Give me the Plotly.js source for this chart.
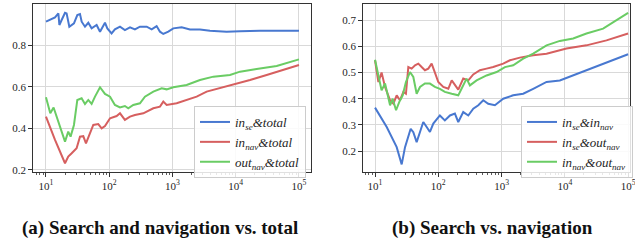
<!DOCTYPE html>
<html>
<head>
<meta charset="utf-8">
<script src="https://cdn.plot.ly/plotly-3.0.1.min.js"></script>
<style>html,body{margin:0;padding:0;background:#fff;}#chart{width:635px;height:243px;}</style>
</head>
<body>
<div id="chart"></div>
<script>
// ---- Panel (a): Search and navigation vs. total ----
const aInSeTotalN = [10,13.9,15.7,16.3,17.7,20,21.2,23.4,27.7,31.3,34.5,36.7,41.4,46.7,52.7,63.2,71.5,85.7,93.3,109,123,148,177,213,255,306,391,469,562,634,716,859,1030,1396,1890,2720,3920,7180,11700,24200,50100,100000];
const aInSeTotalY = [0.912,0.933,0.952,0.896,0.920,0.955,0.952,0.888,0.904,0.944,0.949,0.912,0.888,0.907,0.880,0.896,0.864,0.907,0.880,0.856,0.875,0.888,0.872,0.885,0.875,0.888,0.888,0.875,0.891,0.864,0.853,0.864,0.880,0.885,0.875,0.875,0.869,0.864,0.866,0.869,0.868,0.869];

const aInNavTotalN = [10,13.9,20,22.5,25.5,30.5,34.5,38.9,42.9,49.7,56,67.1,75.9,85.7,103,131,148,177,213,255,346,498,634,716,809,1164,1675,2410,3467,4699,9162,16830,30830,56620,100000];
const aInNavTotalY = [0.456,0.344,0.232,0.264,0.280,0.304,0.360,0.362,0.328,0.376,0.416,0.420,0.400,0.411,0.448,0.459,0.472,0.440,0.456,0.464,0.472,0.496,0.504,0.528,0.512,0.520,0.536,0.552,0.576,0.587,0.608,0.632,0.656,0.680,0.704];

const aOutNavTotalN = [10,11.7,13.2,15.7,20,22.5,24.5,27.7,31.3,36.6,41.4,46.7,52.7,59.6,71.5,85.7,103,123,148,177,200,240,306,367,498,675,809,1030,1675,2720,4430,8110,11700,21400,44400,100000];
const aOutNavTotalY = [0.549,0.472,0.500,0.432,0.336,0.384,0.360,0.416,0.536,0.544,0.517,0.536,0.517,0.552,0.597,0.565,0.552,0.512,0.500,0.507,0.496,0.512,0.520,0.552,0.576,0.592,0.587,0.597,0.608,0.632,0.648,0.656,0.672,0.685,0.699,0.731];

// ---- Panel (b): Search vs. navigation ----
const bInSeInNavN = [10,15.3,22,26.4,29.8,33.6,36.6,40.3,45.5,51.4,57.9,65.5,73.8,83.4,91.8,106,127,153,183,207,248,298,357,429,514,615,785,1062,1528,2198,3162,5140,8340,13550,21980,40270,100000];
const bInSeInNavY = [0.366,0.292,0.215,0.149,0.215,0.254,0.285,0.272,0.234,0.273,0.311,0.292,0.273,0.305,0.317,0.336,0.317,0.336,0.343,0.311,0.349,0.336,0.362,0.375,0.394,0.381,0.375,0.400,0.413,0.419,0.438,0.464,0.470,0.489,0.509,0.532,0.570];

const bInSeOutNavN = [10,11.3,12.7,14.4,17.3,19.5,22,24.8,28,30.8,33.6,37.9,42.9,48.3,54.6,61.5,69.5,78.5,88.5,100,120,144,163,183,207,248,298,357,455,579,738,1062,1355,1945,3162,5140,6550,10620,21980,45500,100000];
const bInSeOutNavY = [0.547,0.464,0.500,0.445,0.394,0.381,0.413,0.394,0.426,0.419,0.521,0.515,0.528,0.534,0.521,0.509,0.515,0.534,0.500,0.464,0.445,0.438,0.470,0.451,0.435,0.477,0.470,0.493,0.509,0.515,0.521,0.534,0.547,0.557,0.566,0.572,0.579,0.592,0.604,0.623,0.649];

const bInNavOutNavN = [10,11.3,12.7,14.4,17.3,19,21.5,24.2,27.4,30.8,35.7,40.3,45.5,51.4,61.5,73.8,88.5,106,127,163,207,233,280,316,403,579,834,1130,1528,2198,3162,5140,8340,13550,21980,40270,100000];
const bInNavOutNavY = [0.549,0.483,0.432,0.458,0.375,0.400,0.356,0.388,0.413,0.464,0.502,0.483,0.419,0.445,0.458,0.458,0.445,0.438,0.426,0.419,0.413,0.438,0.477,0.451,0.470,0.489,0.502,0.521,0.528,0.553,0.572,0.604,0.621,0.630,0.649,0.668,0.728];

// ---- Labels / ticks ----
const aNames = ['<i>in<sub>se</sub>&amp;total</i>','<i>in<sub>nav</sub>&amp;total</i>','<i>out<sub>nav</sub>&amp;total</i>'];
const bNames = ['<i>in<sub>se</sub>&amp;in<sub>nav</sub></i>','<i>in<sub>se</sub>&amp;out<sub>nav</sub></i>','<i>in<sub>nav</sub>&amp;out<sub>nav</sub></i>'];
const xTickVals = [10,100,1000,10000,100000];
const xTickText = ['10<sup>1</sup>','10<sup>2</sup>','10<sup>3</sup>','10<sup>4</sup>','10<sup>5</sup>'];
const minorMultipliers = [2,3,4,5,6,7,8,9];
const minorDecades = [1,10,100,1000,10000,100000];
const aYTicks = [0.2,0.4,0.6,0.8];
const bYTicks = [0.2,0.3,0.4,0.5,0.6,0.7];
const captions = ['(a) Search and navigation vs. total','(b) Search vs. navigation'];

const minorTickVals = [];
minorDecades.forEach(d => minorMultipliers.forEach(m => minorTickVals.push(d * m)));

const colors = ['#4878D0','#D65F5F','#6ACC64'];
const serif = 'Liberation Serif, Times New Roman, serif';

function tr(x, y, name, color, xa, ya, legend) {
  return {x: x, y: y, name: name, type: 'scatter', mode: 'lines',
    line: {color: color, width: 2}, xaxis: xa, yaxis: ya, legend: legend};
}

const data = [
  tr(aInSeTotalN, aInSeTotalY, aNames[0], colors[0], 'x', 'y', 'legend'),
  tr(aInNavTotalN, aInNavTotalY, aNames[1], colors[1], 'x', 'y', 'legend'),
  tr(aOutNavTotalN, aOutNavTotalY, aNames[2], colors[2], 'x', 'y', 'legend'),
  tr(bInSeInNavN, bInSeInNavY, bNames[0], colors[0], 'x2', 'y2', 'legend2'),
  tr(bInSeOutNavN, bInSeOutNavY, bNames[1], colors[1], 'x2', 'y2', 'legend2'),
  tr(bInNavOutNavN, bInNavOutNavY, bNames[2], colors[2], 'x2', 'y2', 'legend2'),
  // empty helper traces so the minor-tick overlay axes are drawn
  {x: [], y: [], xaxis: 'x3', yaxis: 'y', type: 'scatter', showlegend: false, hoverinfo: 'skip'},
  {x: [], y: [], xaxis: 'x4', yaxis: 'y2', type: 'scatter', showlegend: false, hoverinfo: 'skip'}
];

const tickFont = {family: serif, size: 11, color: '#262626'};

function xAxis(domain, range, anchor) {
  return {type: 'log', domain: domain, range: range, anchor: anchor, tickmode: 'array', tickvals: xTickVals, ticktext: xTickText,
    ticks: 'outside', ticklen: 3.5, tickwidth: 1, tickcolor: '#333', ticklabeloverflow: 'allow',
    showline: true, linecolor: '#333', linewidth: 1.2, mirror: true,
    showgrid: true, gridcolor: '#d9d9d9', gridwidth: 1, zeroline: false,
    tickfont: tickFont, fixedrange: true};
}
function minorAxis(over, range, anchor) {
  return {type: 'log', overlaying: over, anchor: anchor, range: range, side: 'bottom',
    tickmode: 'array', tickvals: minorTickVals, showticklabels: false,
    ticks: 'outside', ticklen: 2, tickwidth: 0.8, tickcolor: '#333',
    showline: false, showgrid: false, zeroline: false, fixedrange: true};
}
function yAxis(domain, range, ticks, anchor) {
  return {domain: domain, range: range, tickmode: 'array', tickvals: ticks, ticktext: ticks.map(v => v.toFixed(1)),
    ticks: 'outside', ticklen: 3.5, tickwidth: 1, tickcolor: '#333', anchor: anchor,
    showline: true, linecolor: '#333', linewidth: 1.2, mirror: true,
    showgrid: true, gridcolor: '#d9d9d9', gridwidth: 1, zeroline: false,
    tickfont: tickFont, fixedrange: true};
}

const ydom = [1 - 172/243, 1 - 4/243];
const aXRange = [0.795, 5.19];
const bXRange = [0.81, 5.03];
const legendStyle = {font: {family: serif, size: 13, color: '#262626'}, bgcolor: 'rgba(255,255,255,0.85)',
  bordercolor: '#cccccc', borderwidth: 1, xanchor: 'right', yanchor: 'top', itemwidth: 30, tracegroupgap: 0};
const captionFont = {family: serif, size: 19, color: '#111'};

const layout = {
  width: 635, height: 243,
  margin: {l: 0, r: 0, t: 0, b: 0},
  paper_bgcolor: '#fff', plot_bgcolor: '#fff',
  showlegend: true,
  xaxis: xAxis([33/635, 311/635], aXRange, 'y'),
  yaxis: yAxis(ydom, [0.19, 0.997], aYTicks, 'x'),
  xaxis2: xAxis([363/635, 630/635], bXRange, 'y2'),
  yaxis2: yAxis(ydom, [0.12, 0.762], bYTicks, 'x2'),
  xaxis3: minorAxis('x', aXRange, 'y'),
  xaxis4: minorAxis('x2', bXRange, 'y2'),
  legend: Object.assign({x: 306/635, y: 1 - 106/243}, legendStyle),
  legend2: Object.assign({x: 633/635, y: 1 - 106/243}, legendStyle),
  annotations: [
    {text: '<b>' + captions[0] + '</b>', xref: 'paper', yref: 'paper', x: 160/635, y: 1 - 228/243,
     xanchor: 'center', yanchor: 'middle', showarrow: false, font: captionFont},
    {text: '<b>' + captions[1] + '</b>', xref: 'paper', yref: 'paper', x: 492/635, y: 1 - 228/243,
     xanchor: 'center', yanchor: 'middle', showarrow: false, font: captionFont}
  ]
};

Plotly.newPlot('chart', data, layout, {staticPlot: true, displayModeBar: false});
</script>
</body>
</html>
